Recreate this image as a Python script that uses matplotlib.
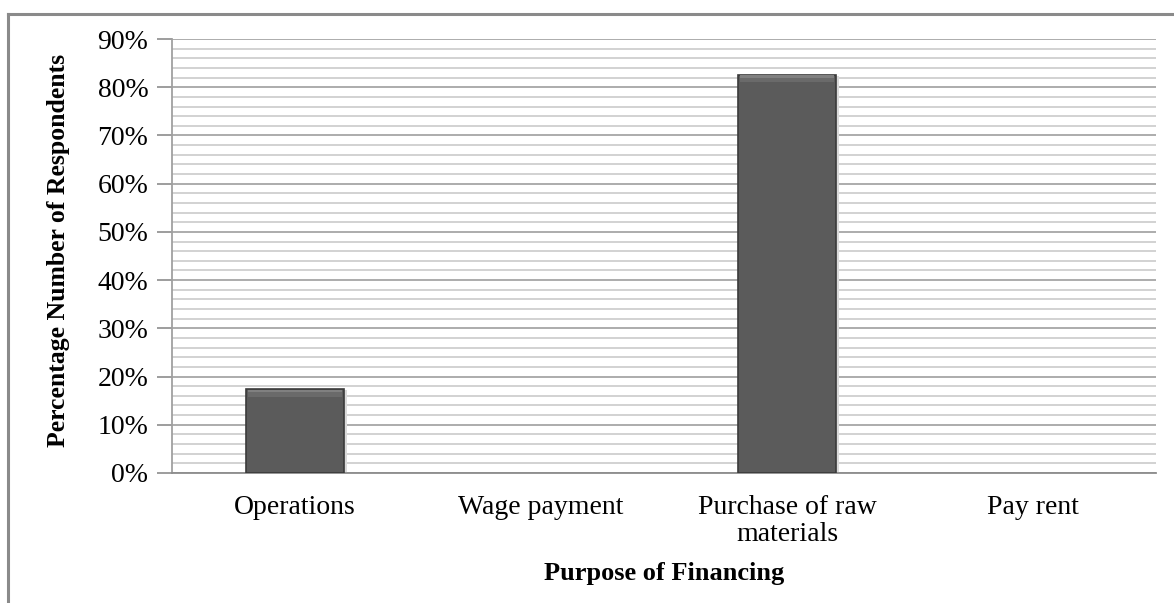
import matplotlib
matplotlib.use('Agg')
import matplotlib.pyplot as plt
from matplotlib.lines import Line2D
import numpy as np

# chart data
purposes = ['Operations', 'Wage payment', 'Purchase of raw\nmaterials', 'Pay rent']
shares = [17.4, 0.0, 82.6, 0.0]
y_ticks = [0, 10, 20, 30, 40, 50, 60, 70, 80, 90]
y_ticklabels = ['0%', '10%', '20%', '30%', '40%', '50%', '60%', '70%', '80%', '90%']

plt.rcParams['font.family'] = ['Liberation Serif', 'DejaVu Serif']

fig = plt.figure(figsize=(11.74, 6.03), dpi=100)
ax = fig.add_axes([0.1465, 0.2156, 0.8382, 0.7197])

x = np.arange(len(purposes))
edges = ['#3a3a3a' if v > 0 else 'none' for v in shares]
# soft shadow then bar body
ax.bar(x + 0.012, [v if v > 0 else 0 for v in shares], 0.4, bottom=-0.25,
       color='#dadada', zorder=2)
ax.bar(x, shares, 0.4, color='#5b5b5b', edgecolor=edges, linewidth=1.2, zorder=3)
# light bevel along the top of each bar
for xi, v in zip(x, shares):
    if v > 0:
        ax.bar(xi, 0.6, 0.385, bottom=v - 0.75, color='#808080', zorder=4)
        ax.bar(xi, 0.9, 0.385, bottom=v - 1.6, color='#6a6a6a', zorder=4)

ax.set_xlim(-0.5, len(purposes) - 0.5)
ax.set_ylim(0, 90)
ax.set_yticks(y_ticks)
ax.set_yticklabels(y_ticklabels, fontsize=20)
ax.set_yticks(np.arange(0, 91, 2), minor=True)
ax.set_xticks(x)
ax.set_xticklabels(purposes, fontsize=20, linespacing=1.1)
ax.tick_params(axis='x', length=0, pad=16)
ax.tick_params(axis='y', which='major', length=11, color='#8c8c8c', width=1.2, pad=6)
ax.tick_params(axis='y', which='minor', length=0)

ax.grid(axis='y', which='minor', color='#cfcfcf', linewidth=1.3, zorder=0)
ax.grid(axis='y', which='major', color='#a6a6a6', linewidth=1.3, zorder=1)
ax.set_axisbelow(True)

for side in ['top', 'right']:
    ax.spines[side].set_visible(False)
ax.spines['left'].set_color('#a0a0a0')
ax.spines['left'].set_linewidth(1.3)
ax.spines['bottom'].set_color('#8c8c8c')
ax.spines['bottom'].set_linewidth(1.3)

ax.set_ylabel('Percentage Number of Respondents', fontsize=18.5, fontweight='bold')
ax.yaxis.set_label_coords(-0.104, 0.513)
ax.set_xlabel('Purpose of Financing', fontsize=19, fontweight='bold')
ax.xaxis.set_label_coords(0.5, -0.205)

# outer chart frame (only top and left visible)
fig.add_artist(Line2D([7.5 / 1174, 7.5 / 1174], [0, 589 / 603], color='#8a8a8a', linewidth=2.2,
                      transform=fig.transFigure))
fig.add_artist(Line2D([7.5 / 1174, 1], [589 / 603, 589 / 603], color='#8a8a8a', linewidth=2.2,
                      transform=fig.transFigure))

fig.savefig('out.png', dpi=100)
